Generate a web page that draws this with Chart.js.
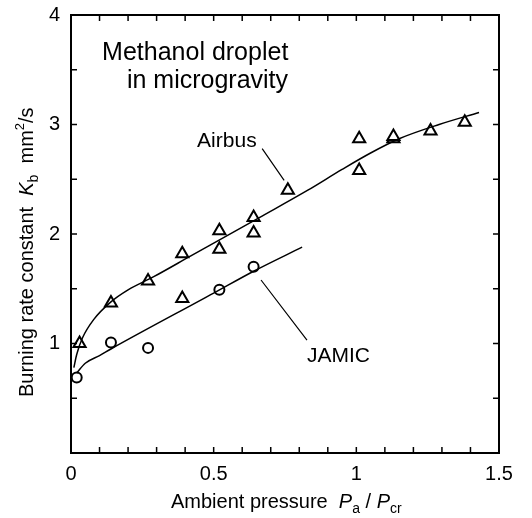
<!DOCTYPE html>
<html>
<head>
<meta charset="utf-8">
<script src="https://cdn.jsdelivr.net/npm/chart.js@4"></script>
<style>
  html, body { margin: 0; padding: 0; background: #fff; }
  #wrap { width: 532px; height: 518px; }
</style>
</head>
<body>
<div id="wrap"><canvas id="chart" width="532" height="518"></canvas></div>
<script>
// measured points
const airbusX = [0.03, 0.14, 0.27, 0.39, 0.39, 0.52, 0.52, 0.64, 0.64, 0.76, 1.01, 1.01, 1.13, 1.13, 1.26, 1.38];
const airbusY = [1.00, 1.37, 1.57, 1.82, 1.41, 2.03, 1.86, 2.15, 2.01, 2.40, 2.87, 2.58, 2.87, 2.89, 2.94, 3.02];
const jamicX = [0.02, 0.14, 0.27, 0.52, 0.64];
const jamicY = [0.69, 1.01, 0.96, 1.49, 1.70];

// fitted curves
const airbusFitX = [0.01, 0.02, 0.04, 0.08, 0.14, 0.20, 0.29, 0.42, 0.53, 0.66, 0.83, 0.95, 1.05, 1.15, 1.29, 1.43];
const airbusFitY = [0.78, 0.90, 1.05, 1.22, 1.38, 1.49, 1.61, 1.80, 1.96, 2.15, 2.40, 2.59, 2.74, 2.87, 3.00, 3.11];
const jamicFitX = [0.02, 0.05, 0.10, 0.14, 0.50, 0.64, 0.81];
const jamicFitY = [0.73, 0.82, 0.89, 0.95, 1.46, 1.66, 1.88];

const xTickLabels = ['0', '0.5', '1', '1.5'];
const yTickLabels = ['1', '2', '3', '4'];

const FONT = "'Liberation Sans', Arial, Helvetica, sans-serif";

const pts = (xs, ys) => xs.map((x, i) => ({ x, y: ys[i] }));

// frame, inward ticks, titles and labels
const decor = {
  id: 'decor',
  afterDraw(chart) {
    const { ctx, chartArea: a, scales: { x, y } } = chart;
    ctx.save();
    ctx.strokeStyle = '#000';
    ctx.lineWidth = 2;
    ctx.strokeRect(a.left, a.top, a.right - a.left, a.bottom - a.top);

    ctx.lineWidth = 1.5;
    ctx.beginPath();
    for (let i = 1; i < 15; i++) {
      const px = x.getPixelForValue(i / 10);
      ctx.moveTo(px, a.bottom); ctx.lineTo(px, a.bottom - 6);
      ctx.moveTo(px, a.top); ctx.lineTo(px, a.top + 6);
    }
    for (let i = 1; i < 8; i++) {
      const py = y.getPixelForValue(i / 2);
      ctx.moveTo(a.left, py); ctx.lineTo(a.left + 6, py);
      ctx.moveTo(a.right, py); ctx.lineTo(a.right - 6, py);
    }
    ctx.stroke();

    ctx.fillStyle = '#000';
    ctx.textBaseline = 'alphabetic';
    const txt = (s, px, py, size, style) => {
      ctx.font = (style || '') + ' ' + size + 'px ' + FONT;
      ctx.fillText(s, px, py);
      return ctx.measureText(s).width;
    };

    // inner title
    ctx.textAlign = 'left';
    txt('Methanol droplet', x.getPixelForValue(0.109), y.getPixelForValue(3.59), 25);
    txt('in microgravity', x.getPixelForValue(0.196), y.getPixelForValue(3.335), 25);

    // series labels + leaders
    txt('Airbus', x.getPixelForValue(0.442), y.getPixelForValue(2.795), 21);
    txt('JAMIC', x.getPixelForValue(0.827), y.getPixelForValue(0.83), 21);
    ctx.lineWidth = 1.2;
    ctx.beginPath();
    ctx.moveTo(x.getPixelForValue(0.67), y.getPixelForValue(2.78));
    ctx.lineTo(x.getPixelForValue(0.747), y.getPixelForValue(2.49));
    ctx.moveTo(x.getPixelForValue(0.666), y.getPixelForValue(1.58));
    ctx.lineTo(x.getPixelForValue(0.827), y.getPixelForValue(1.03));
    ctx.stroke();

    // x axis title
    let cx = 171, by = 508;
    cx += txt('Ambient pressure  ', cx, by, 20);
    cx += txt('P', cx, by, 20, 'italic');
    cx += txt('a', cx, by + 5, 14);
    cx += txt(' / ', cx, by, 20);
    cx += txt('P', cx, by, 20, 'italic');
    txt('cr', cx, by + 5, 14);

    // y axis title, rotated
    ctx.translate(33, 397);
    ctx.rotate(-Math.PI / 2);
    cx = 0;
    cx += txt('Burning rate constant  ', cx, 0, 20);
    cx += txt('K', cx, 0, 20, 'italic');
    cx += txt('b', cx, 5, 14);
    cx += txt('  mm', cx, 0, 20);
    cx += txt('2', cx, -9, 13);
    txt('/s', cx, 0, 20);
    ctx.restore();
  }
};

new Chart(document.getElementById('chart'), {
  type: 'scatter',
  data: {
    datasets: [
      {
        label: 'Airbus fit',
        data: pts(airbusFitX, airbusFitY),
        showLine: true,
        pointRadius: 0,
        borderColor: '#000',
        borderWidth: 1.5,
        cubicInterpolationMode: 'monotone'
      },
      {
        label: 'JAMIC fit',
        data: pts(jamicFitX, jamicFitY),
        showLine: true,
        pointRadius: 0,
        borderColor: '#000',
        borderWidth: 1.5,
        cubicInterpolationMode: 'monotone'
      },
      {
        label: 'Airbus',
        data: pts(airbusX, airbusY),
        pointStyle: 'triangle',
        pointRadius: 7,
        borderColor: '#000',
        backgroundColor: '#fff',
        borderWidth: 2
      },
      {
        label: 'JAMIC',
        data: pts(jamicX, jamicY),
        pointStyle: 'circle',
        pointRadius: 5,
        borderColor: '#000',
        backgroundColor: '#fff',
        borderWidth: 2
      }
    ]
  },
  options: {
    responsive: false,
    animation: false,
    layout: { padding: { top: 10, right: 33, left: 0, bottom: 0 } },
    plugins: {
      legend: { display: false },
      tooltip: { enabled: false }
    },
    scales: {
      x: {
        type: 'linear',
        min: 0,
        max: 1.5,
        grid: { display: false },
        border: { display: false },
        afterFit(s) { s.height = 65; },
        ticks: {
          stepSize: 0.5,
          padding: 1,
          color: '#000',
          font: { family: FONT, size: 20 },
          callback: (v, i) => xTickLabels[i]
        }
      },
      y: {
        type: 'linear',
        min: 0,
        max: 4,
        grid: { display: false },
        border: { display: false },
        afterFit(s) { s.width = 71; },
        ticks: {
          stepSize: 1,
          padding: 3,
          color: '#000',
          font: { family: FONT, size: 20 },
          callback: (v) => (v >= 1 ? yTickLabels[v - 1] : '')
        }
      }
    }
  },
  plugins: [decor]
});
</script>
</body>
</html>
